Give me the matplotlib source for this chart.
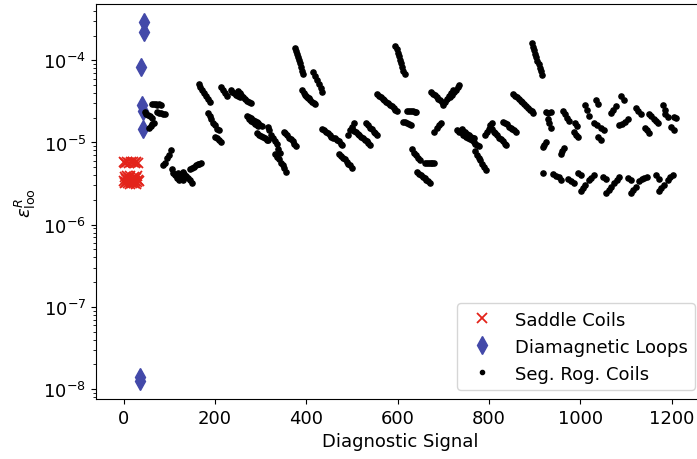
import numpy as np
import matplotlib
matplotlib.use("Agg")
import matplotlib.pyplot as plt

# Leave-one-out reconstruction error per diagnostic signal
saddle_signal = list(range(34))
saddle_eps = [5.8e-6, 3.4e-6, 3.8e-6, 3.2e-6, 5.7e-6, 3.6e-6, 3.3e-6, 3.9e-6,
              5.8e-6, 3.2e-6, 3.5e-6, 3.7e-6, 5.7e-6, 3.1e-6, 3.4e-6, 3.9e-6,
              5.8e-6, 3.3e-6, 3.6e-6, 3.2e-6, 5.8e-6, 3.5e-6, 3.8e-6, 3.2e-6,
              5.7e-6, 3.4e-6, 3.1e-6, 3.7e-6, 5.8e-6, 3.3e-6, 3.9e-6, 3.5e-6,
              5.7e-6, 3.4e-6]

diamag_signal = [35, 36, 39, 41, 42, 43, 44, 45]
diamag_eps = [1.25e-8, 1.4e-8, 8.4e-5, 2.85e-5, 2.4e-5, 1.45e-5, 2.93e-4, 2.2e-4]

# Segmented Rogowski coils, listed as runs of neighbouring signals:
# (first signal, signal step, eps values along the run)
rog_runs = [
    (46, 4, [2.35e-5, 2.25e-5, 2.15e-5, 2.08e-5, 2.0e-5]),
    (62, 4, [2.95e-5, 2.9e-5, 2.9e-5, 2.85e-5, 2.9e-5, 2.85e-5]),
    (74, 4, [2.35e-5, 2.3e-5, 2.3e-5, 2.25e-5, 2.25e-5]),
    (55, 4, [1.52e-5, 1.6e-5, 1.68e-5, 1.75e-5]),
    (87, 4, [5.25e-6, 5.7e-6, 6.4e-6, 7.1e-6, 8.0e-6]),
    (105, 4, [4.7e-6, 4.3e-6, 4.07e-6, 3.74e-6, 3.45e-6]),
    (119, 4, [4.2e-6, 3.9e-6, 3.7e-6, 3.5e-6]),
    (129, 4, [4.43e-6, 4.19e-6, 3.96e-6, 3.74e-6, 3.45e-6, 3.25e-6]),
    (146, 4, [4.8e-6, 4.96e-6, 5.1e-6, 5.25e-6, 5.4e-6, 5.55e-6, 5.7e-6]),
    (164, 4, [5.1e-5, 4.7e-5, 4.3e-5, 3.96e-5, 3.65e-5, 3.34e-5, 3.07e-5]),
    (184, 4, [2.26e-5, 2.08e-5, 1.91e-5, 1.75e-5, 1.61e-5, 1.48e-5, 1.40e-5]),
    (201, 4, [1.18e-5, 1.12e-5, 1.06e-5, 1.0e-5]),
    (214, 4, [4.69e-5, 4.3e-5, 3.96e-5, 3.63e-5]),
    (234, 4, [4.3e-5, 4.1e-5, 3.95e-5, 3.8e-5, 3.65e-5, 3.6e-5]),
    (250, 4, [4.2e-5, 3.96e-5, 3.75e-5, 3.55e-5, 3.35e-5, 3.2e-5, 3.07e-5, 3.0e-5]),
    (271, 4, [2.13e-5, 2.05e-5, 1.98e-5, 1.9e-5, 1.85e-5, 1.8e-5, 1.72e-5, 1.65e-5, 1.6e-5]),
    (275, 4, [1.92e-5, 1.85e-5, 1.78e-5, 1.7e-5, 1.63e-5, 1.6e-5]),
    (293, 4, [1.29e-5, 1.24e-5, 1.2e-5, 1.16e-5, 1.12e-5, 1.08e-5, 1.06e-5]),
    (315, 4, [1.56e-5, 1.4e-5, 1.25e-5, 1.15e-5, 1.03e-5, 9.5e-6, 8.45e-6, 7.55e-6]),
    (332, 4, [7.34e-6, 6.75e-6, 6.21e-6, 5.7e-6, 5.25e-6, 4.83e-6, 4.43e-6]),
    (350, 4, [1.36e-5, 1.29e-5, 1.22e-5, 1.15e-5, 1.09e-5, 1.03e-5, 9.5e-6, 8.95e-6]),
    (376, 2, [1.40e-4, 1.29e-4, 1.18e-4, 1.09e-4, 1.0e-4, 9.2e-5, 8.2e-5, 7.5e-5, 6.75e-5]),
    (390, 4, [4.3e-5, 4.05e-5, 3.8e-5, 3.6e-5, 3.45e-5]),
    (400, 4, [3.63e-5, 3.45e-5, 3.3e-5, 3.15e-5, 3.0e-5, 2.95e-5]),
    (415, 4, [7.14e-5, 6.4e-5, 5.7e-5, 5.1e-5, 4.56e-5, 4.1e-5]),
    (435, 4, [1.44e-5, 1.4e-5, 1.36e-5, 1.29e-5, 1.25e-5, 1.18e-5, 1.15e-5, 1.12e-5,
              1.06e-5, 1.03e-5, 9.7e-6, 9.45e-6]),
    (472, 4, [7.34e-6, 6.94e-6, 6.56e-6, 6.21e-6, 5.86e-6, 5.55e-6, 5.25e-6, 4.96e-6]),
    (492, 4, [1.25e-5, 1.4e-5, 1.55e-5, 1.71e-5]),
    (500, 4, [1.44e-5, 1.38e-5, 1.33e-5, 1.28e-5, 1.22e-5, 1.17e-5, 1.12e-5, 1.07e-5,
              1.03e-5, 9.85e-6, 9.45e-6]),
    (531, 4, [1.71e-5, 1.61e-5, 1.52e-5, 1.44e-5, 1.36e-5, 1.29e-5, 1.25e-5]),
    (555, 4, [3.85e-5, 3.7e-5, 3.54e-5, 3.4e-5, 3.25e-5, 3.1e-5, 2.99e-5, 2.87e-5,
              2.75e-5, 2.63e-5, 2.52e-5, 2.39e-5]),
    (595, 2.5, [1.48e-4, 1.36e-4, 1.22e-4, 1.12e-4, 1.0e-4, 9.2e-5, 8.2e-5, 7.5e-5, 6.75e-5]),
    (621, 4, [2.45e-5, 2.45e-5, 2.4e-5, 2.4e-5, 2.38e-5, 2.35e-5]),
    (612, 4, [1.8e-5, 1.76e-5, 1.71e-5, 1.66e-5, 1.61e-5]),
    (632, 4, [8.22e-6, 7.55e-6, 7.14e-6, 6.56e-6, 6.05e-6]),
    (660, 4, [5.7e-6, 5.7e-6, 5.7e-6, 5.65e-6, 5.65e-6, 5.6e-6]),
    (643, 4, [4.43e-6, 4.19e-6, 4.07e-6, 3.85e-6, 3.74e-6, 3.54e-6, 3.44e-6, 3.25e-6]),
    (673, 4, [4.07e-5, 3.85e-5, 3.74e-5, 3.54e-5, 3.34e-5, 3.25e-5, 3.07e-5]),
    (700, 4, [2.83e-5, 3.07e-5, 3.34e-5, 3.63e-5, 3.96e-5, 4.3e-5]),
    (715, 4, [3.54e-5, 3.8e-5, 4.07e-5, 4.37e-5, 4.69e-5, 5.03e-5]),
    (680, 5, [1.36e-5, 1.5e-5, 1.61e-5, 1.71e-5]),
    (730, 4, [1.4e-5, 1.36e-5, 1.33e-5, 1.25e-5, 1.22e-5, 1.18e-5, 1.12e-5, 1.09e-5,
              1.06e-5, 1.0e-5, 9.7e-6, 9.45e-6, 8.95e-6]),
    (740, 4, [1.44e-5, 1.38e-5, 1.33e-5, 1.28e-5, 1.22e-5, 1.18e-5, 1.15e-5, 1.12e-5]),
    (769, 4, [7.77e-6, 7.14e-6, 6.56e-6, 6.05e-6, 5.55e-6, 5.1e-6, 4.69e-6]),
    (791, 4, [1.22e-5, 1.33e-5, 1.44e-5, 1.61e-5, 1.75e-5]),
    (802, 4, [1.52e-5, 1.44e-5, 1.36e-5, 1.29e-5, 1.22e-5, 1.15e-5, 1.09e-5, 1.03e-5,
              9.7e-6, 9.2e-6]),
    (831, 4, [1.8e-5, 1.71e-5, 1.66e-5, 1.56e-5, 1.52e-5, 1.44e-5, 1.4e-5, 1.33e-5]),
    (853, 4, [3.85e-5, 3.63e-5, 3.54e-5, 3.34e-5, 3.16e-5, 3.07e-5, 2.9e-5, 2.75e-5,
              2.6e-5, 2.52e-5, 2.39e-5, 2.26e-5]),
    (894, 2.4, [1.61e-4, 1.46e-4, 1.32e-4, 1.20e-4, 1.09e-4, 9.86e-5, 8.94e-5, 8.1e-5,
                7.34e-5, 6.56e-5]),
    (924, 6, [2.35e-5, 2.26e-5, 2.35e-5]),
    (929, 3, [1.91e-5, 1.71e-5, 1.52e-5]),
    (917, 4, [8.7e-6, 9.2e-6, 1.0e-5]),
    (957, 3.5, [7.34e-6, 7.9e-6, 8.69e-6]),
    (962, 4, [2.4e-5, 2.2e-5, 2.0e-5, 1.85e-5]),
    (988, 4, [1.71e-5, 1.6e-5]),
    (986, 4, [1.33e-5, 1.25e-5, 1.18e-5]),
    (1010, 4, [2.83e-5, 2.5e-5, 2.13e-5]),
    (1034, 5, [3.25e-5, 2.9e-5]),
    (1030, 7, [1.71e-5, 1.65e-5, 1.52e-5, 1.42e-5]),
    (1038, 7, [1.18e-5, 1.06e-5]),
    (1067, 5, [2.3e-5, 2.5e-5, 2.75e-5]),
    (1089, 6, [3.63e-5, 3.25e-5]),
    (1084, 6.5, [1.61e-5, 1.66e-5, 1.8e-5, 1.91e-5]),
    (1122, 5, [2.6e-5, 2.45e-5, 2.2e-5]),
    (1150, 5, [2.2e-5, 2.08e-5, 1.95e-5, 1.83e-5, 1.73e-5]),
    (1141, 5, [1.5e-5, 1.4e-5, 1.3e-5]),
    (1181, 5, [2.83e-5, 2.5e-5]),
    (1186, 6, [2.2e-5, 2.02e-5]),
    (1205, 5, [2.05e-5, 2.0e-5]),
    (1199, 6, [1.56e-5, 1.4e-5]),
    (917, 1, [4.3e-6]),
    (940, 6, [4.19e-6, 3.96e-6, 3.85e-6, 3.54e-6]),
    (973, 6, [3.64e-6, 3.44e-6, 3.25e-6]),
    (995, 6, [4.3e-6, 4.07e-6]),
    (1001, 5, [2.6e-6, 2.83e-6, 3.07e-6]),
    (1018, 6, [3.54e-6, 3.74e-6, 4.07e-6]),
    (1049, 6, [3.85e-6, 3.64e-6]),
    (1056, 6, [2.45e-6, 2.67e-6, 2.9e-6]),
    (1073, 6, [3.25e-6, 3.54e-6, 3.85e-6]),
    (1104, 6, [3.74e-6, 3.54e-6]),
    (1110, 6, [2.45e-6, 2.67e-6, 2.9e-6]),
    (1128, 6, [3.44e-6, 3.64e-6, 3.74e-6, 3.85e-6]),
    (1165, 6, [4.07e-6, 3.64e-6]),
    (1172, 5, [2.6e-6, 2.83e-6, 3.07e-6]),
    (1191, 6, [3.54e-6, 3.85e-6, 4.07e-6]),
]

rog_signal = []
rog_eps = []
for first, step, values in rog_runs:
    for k, v in enumerate(values):
        rog_signal.append(first + step * k)
        rog_eps.append(v)

fig = plt.figure(figsize=(6.97, 4.60), dpi=100)
ax = fig.add_axes([96 / 697, 60 / 460, 608 / 697, 395 / 460])

ax.plot(saddle_signal, saddle_eps, linestyle="none", marker="x", color="#e3231a",
        markersize=6.5, markeredgewidth=1.3, label="Saddle Coils")
ax.plot(diamag_signal, diamag_eps, linestyle="none", marker="d", color="#4349a9",
        markersize=9, label="Diamagnetic Loops")
ax.plot(rog_signal, rog_eps, linestyle="none", marker=".", color="black",
        markersize=7.5, label="Seg. Rog. Coils")

ax.set_yscale("log")
ax.set_xlim(-60.5, 1270.5)
ax.set_xticks([0, 200, 400, 600, 800, 1000, 1200])
ax.tick_params(labelsize=13)

ax.set_xlabel("Diagnostic Signal", fontsize=13)
ax.set_ylabel(r"$\varepsilon^{R}_{\mathrm{loo}}$", fontsize=13)

leg = ax.legend(loc="lower right", fontsize=13)
for h in leg.legend_handles:
    if h.get_label() == "Seg. Rog. Coils":
        h.set_markersize(6)

fig.savefig("out.png", dpi=100)
